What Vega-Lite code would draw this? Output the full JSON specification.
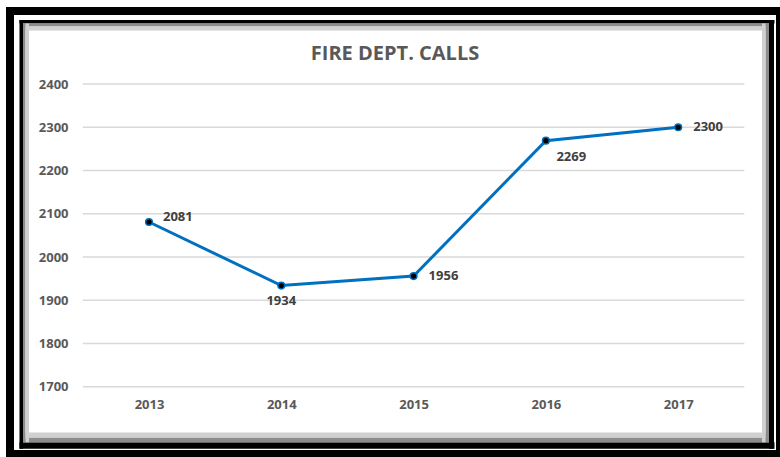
{
  "$schema": "https://vega.github.io/schema/vega-lite/v6.json",
  "autosize": "none",
  "width": 770,
  "height": 443,
  "padding": {"left": 10, "top": 11, "right": 0, "bottom": 3},
  "background": "white",
  "config": {
    "view": {"fill": "white", "stroke": "black", "strokeWidth": 8},
    "axis": {"grid": false, "ticks": false, "tickSize": 0, "labels": false, "title": null, "labelFlush": false, "labelOverlap": false}
  },
  "title": {
    "text": "FIRE DEPT. CALLS",
    "font": "Open Sans",
    "fontSize": 20,
    "fontWeight": "bold",
    "color": "#595959",
    "anchor": "middle",
    "frame": "group",
    "baseline": "middle",
    "offset": -63
  },
  "datasets": {
    "calls": [
      {"year": 2013, "calls": 2081},
      {"year": 2014, "calls": 1934},
      {"year": 2015, "calls": 1956},
      {"year": 2016, "calls": 2269},
      {"year": 2017, "calls": 2300}
    ],
    "grid": [
      {"v": 1700}, {"v": 1800}, {"v": 1900}, {"v": 2000},
      {"v": 2100}, {"v": 2200}, {"v": 2300}, {"v": 2400}
    ]
  },
  "resolve": {"axis": {"x": "independent", "y": "independent"}},
  "layer": [
    {
      "data": {"name": "grid"},
      "mark": {"type": "rule", "color": "#d9d9d9", "strokeWidth": 1.5},
      "encoding": {
        "x": {"datum": 2012.5, "type": "quantitative",
              "scale": {"domain": [2011.9494, 2017.7695], "nice": false, "zero": false},
              "axis": {"orient": "top", "offset": -10.25, "domainColor": "black", "domainWidth": 3.5, "domainDash": [755, 3000], "domainDashOffset": -9}},
        "x2": {"datum": 2017.5},
        "y": {"field": "v", "type": "quantitative",
              "scale": {"domain": [1544.65, 2568.76], "nice": false, "zero": false},
              "axis": {"orient": "right", "offset": -9, "domainColor": "black", "domainWidth": 5, "domainDash": [428.75, 3000], "domainDashOffset": -5.75}}
      }
    },
    {
      "data": {"name": "calls"},
      "mark": {"type": "line", "color": "#0070C0", "strokeWidth": 3},
      "encoding": {
        "x": {"field": "year", "type": "quantitative",
              "scale": {"domain": [2011.9494, 2017.7695], "nice": false, "zero": false},
              "axis": {"orient": "bottom", "offset": -9, "domainColor": "black", "domainWidth": 6.5, "domainDash": [755, 3000], "domainDashOffset": -9,
                       "labels": true, "values": [2013, 2014, 2015, 2016, 2017], "format": "d",
                       "labelFont": "Open Sans", "labelFontSize": 13, "labelFontWeight": "bold", "labelColor": "#595959",
                       "labelPadding": -41, "labelBaseline": "middle", "labelAlign": "center"}},
        "y": {"field": "calls", "type": "quantitative",
              "scale": {"domain": [1544.65, 2568.76], "nice": false, "zero": false},
              "axis": {"orient": "left", "offset": -10.75, "domainColor": "black", "domainWidth": 3.5, "domainDash": [428.75, 3000], "domainDashOffset": -5.75,
                       "labels": true, "values": [1700, 1800, 1900, 2000, 2100, 2200, 2300, 2400], "format": "d",
                       "labelFont": "Open Sans", "labelFontSize": 13, "labelFontWeight": "bold", "labelColor": "#595959",
                       "labelPadding": -47.25, "labelAlign": "right", "labelBaseline": "middle"}}
      }
    },
    {
      "data": {"name": "calls"},
      "mark": {"type": "point", "shape": "circle", "filled": true, "fill": "black", "stroke": "#0070C0", "strokeWidth": 1.5, "size": 45, "opacity": 1},
      "encoding": {
        "x": {"field": "year", "type": "quantitative",
              "scale": {"domain": [2011.9494, 2017.7695], "nice": false, "zero": false},
              "axis": {"orient": "top", "offset": -13.5, "domainColor": "#8c8c8c", "domainWidth": 3, "domainDash": [745.8, 3000], "domainDashOffset": -12.5}},
        "y": {"field": "calls", "type": "quantitative",
              "scale": {"domain": [1544.65, 2568.76], "nice": false, "zero": false},
              "axis": {"orient": "left", "offset": -13.75, "domainColor": "#8c8c8c", "domainWidth": 2.5, "domainDash": [418.75, 3000], "domainDashOffset": -12.25}}
      }
    },
    {
      "data": {"name": "calls"},
      "transform": [{"filter": "datum.year == 2013"}],
      "mark": {"type": "text", "font": "Open Sans", "fontSize": 13, "fontWeight": "bold", "color": "#404040", "align": "left", "baseline": "middle", "dx": 14, "dy": -5},
      "encoding": {
        "x": {"field": "year", "type": "quantitative",
              "scale": {"domain": [2011.9494, 2017.7695], "nice": false, "zero": false},
              "axis": {"orient": "bottom", "offset": -14.5, "domainColor": "#8c8c8c", "domainWidth": 5, "domainDash": [745.8, 3000], "domainDashOffset": -12.5}},
        "y": {"field": "calls", "type": "quantitative",
              "scale": {"domain": [1544.65, 2568.76], "nice": false, "zero": false},
              "axis": {"orient": "right", "offset": -13.25, "domainColor": "#8c8c8c", "domainWidth": 3.5, "domainDash": [418.75, 3000], "domainDashOffset": -12.25}},
        "text": {"field": "calls", "type": "quantitative", "format": "d"}
      }
    },
    {
      "data": {"name": "calls"},
      "transform": [{"filter": "datum.year == 2015 || datum.year == 2017"}],
      "mark": {"type": "text", "font": "Open Sans", "fontSize": 13, "fontWeight": "bold", "color": "#404040", "align": "left", "baseline": "middle", "dx": 15, "dy": 0},
      "encoding": {
        "x": {"field": "year", "type": "quantitative",
              "scale": {"domain": [2011.9494, 2017.7695], "nice": false, "zero": false},
              "axis": {"orient": "top", "offset": -17, "domainColor": "#d0d0d0", "domainWidth": 4, "domainDash": [745.8, 3000], "domainDashOffset": -12.5}},
        "y": {"field": "calls", "type": "quantitative",
              "scale": {"domain": [1544.65, 2568.76], "nice": false, "zero": false},
              "axis": {"orient": "left", "offset": -16.75, "domainColor": "#d0d0d0", "domainWidth": 3.5, "domainDash": [418.75, 3000], "domainDashOffset": -12.25}},
        "text": {"field": "calls", "type": "quantitative", "format": "d"}
      }
    },
    {
      "data": {"name": "calls"},
      "transform": [{"filter": "datum.year == 2014"}],
      "mark": {"type": "text", "font": "Open Sans", "fontSize": 13, "fontWeight": "bold", "color": "#404040", "align": "center", "baseline": "middle", "dx": 0, "dy": 15},
      "encoding": {
        "x": {"field": "year", "type": "quantitative",
              "scale": {"domain": [2011.9494, 2017.7695], "nice": false, "zero": false},
              "axis": {"orient": "bottom", "offset": -19.5, "domainColor": "#d0d0d0", "domainWidth": 5, "domainDash": [745.8, 3000], "domainDashOffset": -12.5}},
        "y": {"field": "calls", "type": "quantitative",
              "scale": {"domain": [1544.65, 2568.76], "nice": false, "zero": false},
              "axis": {"orient": "right", "offset": -16.75, "domainColor": "#d0d0d0", "domainWidth": 3.5, "domainDash": [418.75, 3000], "domainDashOffset": -12.25}},
        "text": {"field": "calls", "type": "quantitative", "format": "d"}
      }
    },
    {
      "data": {"name": "calls"},
      "transform": [{"filter": "datum.year == 2016"}],
      "mark": {"type": "text", "font": "Open Sans", "fontSize": 13, "fontWeight": "bold", "color": "#404040", "align": "left", "baseline": "middle", "dx": 10.5, "dy": 16.5},
      "encoding": {
        "x": {"field": "year", "type": "quantitative",
              "scale": {"domain": [2011.9494, 2017.7695], "nice": false, "zero": false},
              "axis": null},
        "y": {"field": "calls", "type": "quantitative",
              "scale": {"domain": [1544.65, 2568.76], "nice": false, "zero": false},
              "axis": null},
        "text": {"field": "calls", "type": "quantitative", "format": "d"}
      }
    }
  ]
}
